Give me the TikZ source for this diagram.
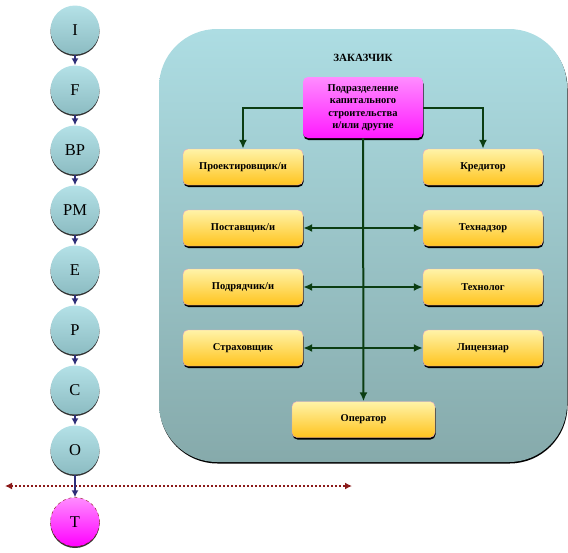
\documentclass[tikz,border=0pt]{standalone}
\usepackage{fontspec}
\setmainfont{Liberation Serif}
\usepackage{tikz}
\usetikzlibrary{arrows.meta,shadows}
\definecolor{stagetop}{HTML}{B4E1E7}
\definecolor{stagebot}{HTML}{8CBCC2}
\definecolor{clienttop}{HTML}{ADDDE3}
\definecolor{clientbot}{HTML}{86AAAB}
\definecolor{boxtop}{HTML}{FFF3A8}
\definecolor{boxbot}{HTML}{FFC41E}
\definecolor{boxrim}{HTML}{E8A8C0}
\definecolor{linkgreen}{HTML}{0B3D12}
\definecolor{navy}{HTML}{2E2E78}
\definecolor{darkred}{HTML}{8B1A1A}

\begin{document}
\begin{tikzpicture}[x=1pt,y=-1pt,
  stage/.style={circle, minimum size=49pt, inner sep=0pt, top color=stagetop, bottom color=stagebot,
    font=\fontsize{16.5}{18}\selectfont, drop shadow={shadow xshift=0pt, shadow yshift=-1.5pt, opacity=1, fill=black!80}},
  final/.style={stage, top color=magenta!45, bottom color=magenta, draw=darkred, dashed, thin},
  unit/.style={draw=boxrim, rounded corners=5pt, minimum width=120pt, minimum height=36pt, top color=boxtop,
    bottom color=boxbot, font=\fontsize{10.5}{12}\selectfont\bfseries, drop shadow={shadow xshift=0.5pt, shadow yshift=-2pt, opacity=1, fill=black}},
  head/.style={unit, draw=none, top color=magenta!45, bottom color=magenta!90, minimum height=61pt, align=center,
    font=\fontsize{10.5}{12.5}\selectfont\bfseries},
  step arr/.style={-{Latex[length=7pt,width=7pt]}, navy, line width=1.6pt},
  link/.style={linkgreen, line width=2pt, >={Latex[length=9pt,width=8pt]}}]
\useasboundingbox (0,0) rectangle (568,552);
% customer block
\node[rounded corners=58pt, minimum width=408pt, minimum height=433pt, top color=clienttop, bottom color=clientbot,
  drop shadow={shadow xshift=0.5pt, shadow yshift=-1.5pt, opacity=1, fill=black}] (client) at (363,245.5) {};
\node[font=\fontsize{11}{12}\selectfont\bfseries] (title) at (363,58) {ЗАКАЗЧИК};
\node[head] (dept) at (363,107.5) {Подразделение\\капитального\\строительства\\и/или другие};
\node[unit] (design)     at (243,167) {Проектировщик/и};
\node[unit] (supplier)   at (243,228) {Поставщик/и};
\node[unit] (contractor) at (243,287) {Подрядчик/и};
\node[unit] (insurer)    at (243,348) {Страховщик};
\node[unit] (creditor)   at (483,167) {Кредитор};
\node[unit] (supervisor) at (483,228) {Технадзор};
\node[unit] (technolog)  at (483,287) {Технолог};
\node[unit] (licensor)   at (483,348) {Лицензиар};
\node[unit, minimum width=143pt] (operator) at (363.5,419.5) {Оператор};
\draw[link, ->] (dept.west) -| (design.north);
\draw[link, ->] (dept.east) -| (creditor.north);
\draw[link, ->] (dept.south) -- (operator.north);
\draw[link, <->] (supplier.east) -- (supervisor.west);
\draw[link, <->] (contractor.east) -- (technolog.west);
\draw[link, <->] (insurer.east) -- (licensor.west);
% stages
\node[stage] (I)  at (75,30)  {I};
\node[stage] (F)  at (75,90)  {F};
\node[stage] (BP) at (75,150) {BP};
\node[stage] (PM) at (75,210) {PM};
\node[stage] (E)  at (75,270) {E};
\node[stage] (P)  at (75,330) {P};
\node[stage] (C)  at (75,390) {C};
\node[stage] (O)  at (75,450) {O};
\node[final] (T)  at (75,522) {T};
\foreach \a/\b in {I/F,F/BP,BP/PM,PM/E,E/P,P/C,C/O}
  \draw[step arr] (\a.south) -- (\b.north);
\coordinate (lineL) at (5,486);
\coordinate (lineR) at (352,486);
\draw[darkred, line width=2pt, dotted, {Latex[length=7pt,width=7pt]}-{Latex[length=7pt,width=7pt]}] (lineL) -- (lineR);
\draw[step arr] (O.south) -- (T.north);
\end{tikzpicture}
\end{document}
